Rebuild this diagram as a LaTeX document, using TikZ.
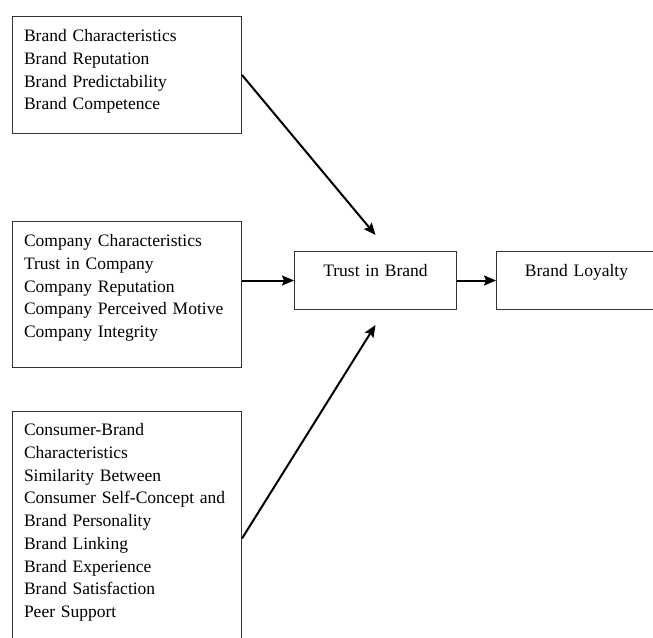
\documentclass[tikz,border=0pt]{standalone}
\usepackage{fontspec}
\setmainfont{Liberation Serif}
\usepackage{tikz}
\usetikzlibrary{arrows.meta,positioning,calc}
\newcommand{\W}{206}  % text width of the left boxes
\newcommand{\G}{16}   % gap between arrow tip and Trust in Brand box

\begin{document}
\begin{tikzpicture}[x=1pt,y=-1pt,
    box/.style={draw=black!80,line width=1pt,anchor=north west,align=left,
        inner xsep=11.5pt,inner ysep=0pt,text width=\W pt,text height=25pt,
        font=\fontsize{17.5}{22.75}\selectfont},
    midbox/.style={box,align=center,text height=24.7pt,text depth=33.3pt},
    link/.style={line width=2pt,-{Stealth[length=12pt,width=10pt,inset=2pt]}}]
            \useasboundingbox (0,0) rectangle (653,637);

            % factor boxes on the left
            \path (12,16) node (BC) [box,text depth=92pt]{Brand Characteristics\\
                Brand Reputation\\ Brand Predictability\\ Brand Competence};
            \path (12,221) node (CC) [box,text depth=121pt]{Company Characteristics\\
                Trust in Company\\ Company Reputation\\ Company Perceived Motive\\
                Company Integrity};
            \path (12,411) node (CB) [box,text height=24pt,text depth=230pt]{Consumer-Brand\\
                Characteristics\\ Similarity Between\\ Consumer Self-Concept and\\
                Brand Personality\\ Brand Linking\\ Brand Experience\\
                Brand Satisfaction\\ Peer Support};

            % outcome boxes
            \path (294,251) node (TB) [midbox,text width=139pt]{Trust in Brand};
            \path (496,251) node (BL) [midbox,text width=137pt]{Brand Loyalty};

            % free ends of the slanted arrows
            \path (TB.north) ++(0,-\G) coordinate (T1);
            \path (TB.south) ++(0,15) coordinate (T2);

            \draw [link] (BC.east) -- (T1);
            \draw [link] (CC.east |- TB.west) -- (TB.west);
            \draw [link] (CB.east) -- (T2);
            \draw [link] (TB.east) -- (BL.west);
        \end{tikzpicture}
\end{document}
